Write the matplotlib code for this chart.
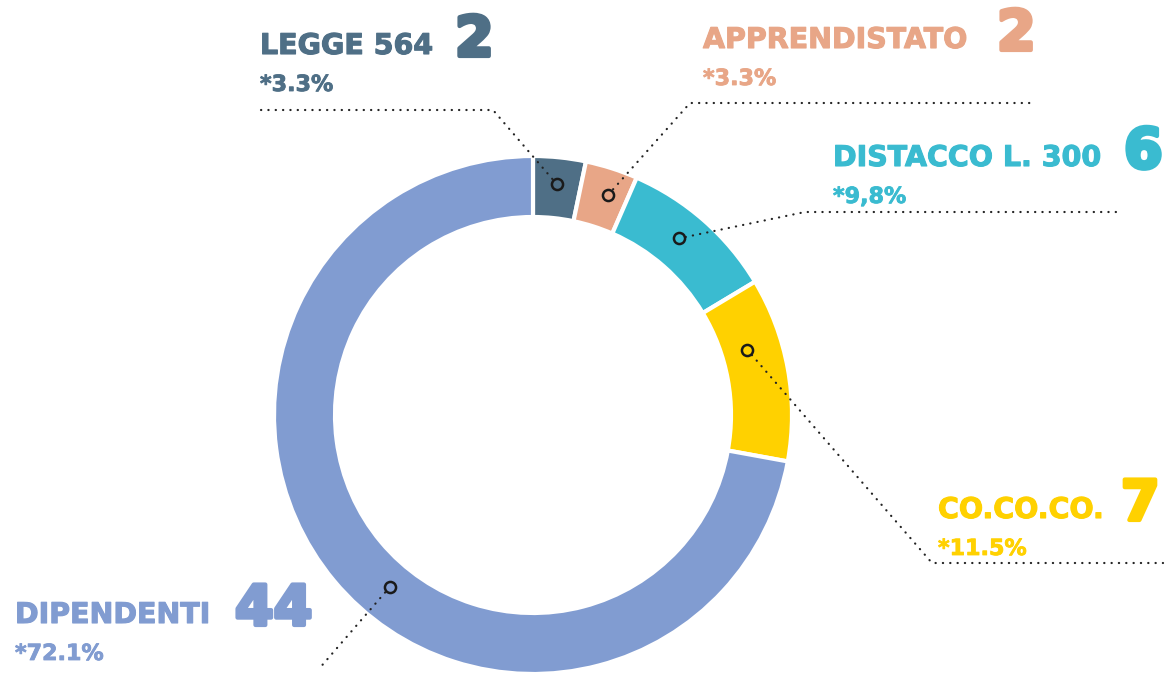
import matplotlib
matplotlib.use('Agg')
import matplotlib.pyplot as plt
import matplotlib.patheffects as pe
import numpy as np

# data
labels = ['LEGGE 564', 'APPRENDISTATO', 'DISTACCO L. 300', 'CO.CO.CO.', 'DIPENDENTI']
counts = [2, 2, 6, 7, 44]
pct_labels = ['*3.3%', '*3.3%', '*9,8%', '*11.5%', '*72.1%']
colors = ['#4f6f86', '#e8a687', '#3abbd0', '#ffd100', '#819cd1']

# layout (pixels from top-left)
W, H = 1168, 675
label_xy = [(260, 54), (703, 48), (833, 166), (938, 518), (15, 623)]
number_x = [455, 997, 1124, 1121, 235]
pct_dy = 37
marker_frac = [0.5, 0.6, 0.45, 0.34, 0.46]
marker_r = [232, 233, 229, 224, 224]
leader_pts = [
    [(493, 110), (258, 110)],
    [(690, 103), (1033, 103)],
    [(805, 212), (1117, 212)],
    [(932, 563), (1163, 563)],
    [(318, 670)],
]

fig = plt.figure(figsize=(W / 100, H / 100), dpi=100)
ax = fig.add_axes([0, 0, 1, 1])

cx, cy = 533, H - 415
R, ring = 259, 61
ax.pie(counts, colors=colors, startangle=90, counterclock=False,
       radius=R, center=(cx, cy),
       wedgeprops=dict(width=ring, edgecolor='white', linewidth=3))
ax.set_xlim(0, W)
ax.set_ylim(0, H)
ax.axis('off')

total = float(sum(counts))
start = 90.0
for i, n in enumerate(counts):
    span = 360.0 * n / total
    ang = np.radians(start - marker_frac[i] * span)
    start -= span
    mx = cx + marker_r[i] * np.cos(ang)
    my = cy + marker_r[i] * np.sin(ang)

    pts = [(x, H - y) for x, y in leader_pts[i]]
    dx, dy = pts[0][0] - mx, pts[0][1] - my
    d = np.hypot(dx, dy)
    xs = [mx + 7 * dx / d] + [p[0] for p in pts]
    ys = [my + 7 * dy / d] + [p[1] for p in pts]
    ax.plot(xs, ys, color='#222222', lw=1.6, linestyle=(0, (0.1, 3.2)),
            dash_capstyle='round', solid_capstyle='round')
    ax.plot(mx, my, 'o', ms=8, mfc='none', mec='#1a1a1a', mew=1.8)

    lx, ly = label_xy[i]
    ax.text(lx, H - ly, labels[i], fontsize=20.5, fontweight='bold',
            color=colors[i], ha='left', va='baseline',
            path_effects=[pe.withStroke(linewidth=0.8, foreground=colors[i])])
    ax.text(number_x[i], H - ly - 2, str(n), fontsize=40, fontweight='heavy',
            color=colors[i], ha='left', va='baseline',
            path_effects=[pe.withStroke(linewidth=3, foreground=colors[i])])
    ax.text(lx, H - ly - pct_dy, pct_labels[i], fontsize=16, fontweight='bold',
            color=colors[i], ha='left', va='baseline',
            path_effects=[pe.withStroke(linewidth=0.6, foreground=colors[i])])

fig.savefig('out.png', dpi=100)
